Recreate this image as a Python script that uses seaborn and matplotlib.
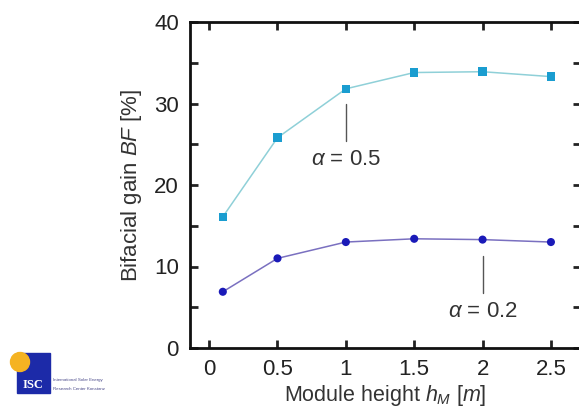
import matplotlib
matplotlib.use("Agg")
import matplotlib.pyplot as plt
import seaborn as sns
import pandas as pd
from matplotlib.patches import Rectangle, Ellipse

heights = [0.1, 0.5, 1.0, 1.5, 2.0, 2.5]
bf_alpha05 = [16.1, 25.8, 31.8, 33.8, 33.9, 33.3]
bf_alpha02 = [6.9, 11.0, 13.0, 13.4, 13.3, 13.0]
x_ticks = [0, 0.5, 1, 1.5, 2, 2.5]
x_tick_labels = ["0", "0.5", "1", "1.5", "2", "2.5"]
y_ticks = [0, 10, 20, 30, 40]

df = pd.DataFrame({
    "h": heights * 2,
    "bf": bf_alpha05 + bf_alpha02,
    "series": ["a05"] * len(heights) + ["a02"] * len(heights),
})

sns.set_style("ticks")
plt.rcParams["font.family"] = ["Liberation Sans", "DejaVu Sans"]
plt.rcParams["mathtext.fontset"] = "custom"
plt.rcParams["mathtext.it"] = "Liberation Sans:italic"
plt.rcParams["mathtext.rm"] = "Liberation Sans"

fig = plt.figure(figsize=(5.79, 4.09), dpi=100)
ax = fig.add_axes([190 / 579, 1 - 348 / 409, 391 / 579, 326 / 409])

sns.lineplot(data=df[df.series == "a05"], x="h", y="bf", ax=ax, color="#8fd0d8",
             linewidth=1.1, legend=False)
sns.scatterplot(data=df[df.series == "a05"], x="h", y="bf", ax=ax, color="#1a9dd0",
                marker="s", s=38, edgecolor="none", legend=False, zorder=3)
sns.lineplot(data=df[df.series == "a02"], x="h", y="bf", ax=ax, color="#7a70c0",
             linewidth=1.1, legend=False)
sns.scatterplot(data=df[df.series == "a02"], x="h", y="bf", ax=ax, color="#1a1ab8",
                marker="o", s=34, edgecolor="none", legend=False, zorder=3)

# annotations
ax.plot([1, 1], [25.4, 30.0], color="#555555", lw=1)
ax.text(1.0, 23.1, r"$\alpha$ = 0.5", ha="center", va="center", fontsize=16, color="#333333")
ax.plot([2, 2], [6.8, 11.3], color="#555555", lw=1)
ax.text(2.0, 4.45, r"$\alpha$ = 0.2", ha="center", va="center", fontsize=16, color="#333333")

ax.set_xlim(-0.14, 2.72)
ax.set_ylim(0, 40)
ax.set_xticks(x_ticks)
ax.set_xticklabels(x_tick_labels)
ax.set_yticks(y_ticks)
ax.set_yticks([5, 15, 25, 35], minor=True)
ax.tick_params(axis="both", which="both", direction="in", top=True, right=True,
               width=2, labelsize=16, colors="#222222", pad=8)
ax.tick_params(which="major", length=6)
ax.tick_params(which="minor", length=6)
for s in ax.spines.values():
    s.set_linewidth(2)
    s.set_color("#111111")
ax.set_xlabel(r"Module height $h_M$ [$m$]", fontsize=15.5, color="#333333", labelpad=2)
ax.set_ylabel(r"Bifacial gain $BF$ [%]", fontsize=16, color="#333333", labelpad=7)

# ISC logo
fig.patches.append(Rectangle((17 / 579, 1 - 393 / 409), 33 / 579, 40 / 409,
                             transform=fig.transFigure, color="#1c2aa8", zorder=1))
fig.patches.append(Ellipse((20 / 579, 1 - 362 / 409), 19 / 579, 19 / 409,
                           transform=fig.transFigure, color="#f5b322", zorder=2))
fig.text(33 / 579, 1 - 385 / 409, "ISC", color="white", fontsize=9, fontweight="bold",
         family="Liberation Serif", ha="center", va="center")
fig.text(53 / 579, 1 - 380 / 409, "International Solar Energy", fontsize=3.2, color="#4a4a8a",
         va="center")
fig.text(53 / 579, 1 - 389 / 409, "Research Center Konstanz", fontsize=3.2, color="#4a4a8a",
         va="center")

fig.savefig("out.png", dpi=100)
